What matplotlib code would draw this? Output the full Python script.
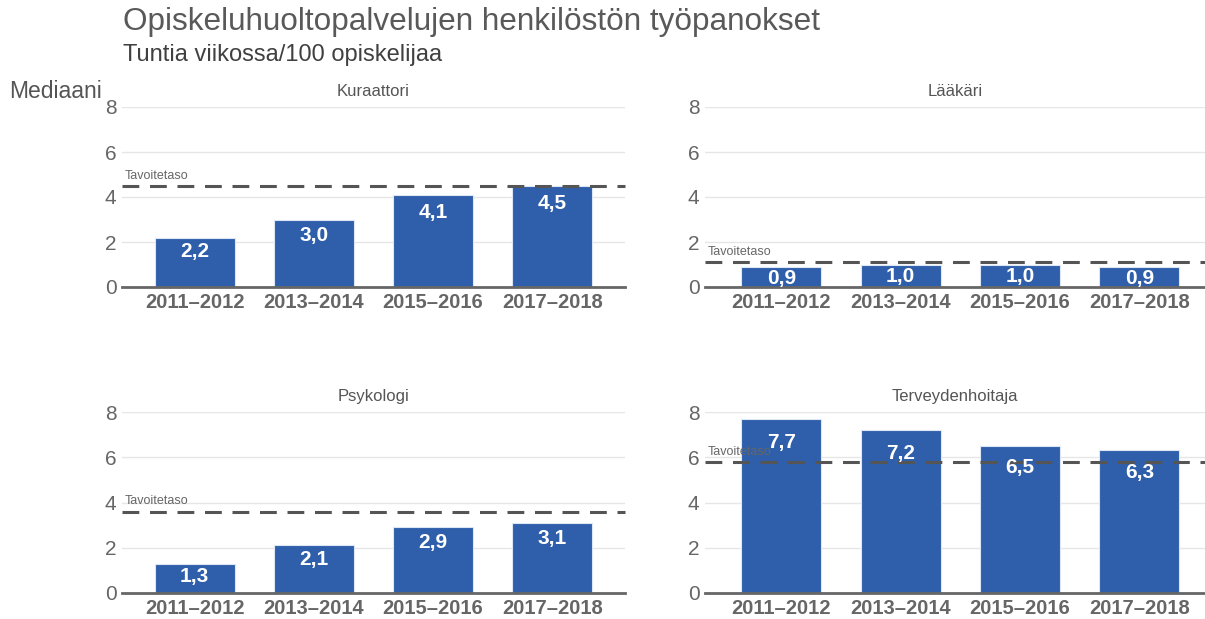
import matplotlib
matplotlib.use("Agg")
import matplotlib.pyplot as plt

plt.rcParams['font.family'] = ['Liberation Sans', 'DejaVu Sans']

periods = ['2011–2012', '2013–2014', '2015–2016', '2017–2018']
kuraattori = [2.2, 3.0, 4.1, 4.5]
laakari = [0.9, 1.0, 1.0, 0.9]
psykologi = [1.3, 2.1, 2.9, 3.1]
terveydenhoitaja = [7.7, 7.2, 6.5, 6.3]
targets = [4.5, 1.1, 3.6, 5.8]
titles = ['Kuraattori', 'Lääkäri', 'Psykologi', 'Terveydenhoitaja']

W, H = 1205, 619
BLUE = '#2f5faa'
GREY = '#666666'

fig = plt.figure(figsize=(W / 100, H / 100), dpi=100)


def px_axes(x0, x1, y_top, y_bot):
    return fig.add_axes([x0 / W, 1 - y_bot / H, (x1 - x0) / W, (y_bot - y_top) / H])


panels = [
    (px_axes(122, 625, 107, 287), kuraattori, (-0.61, 3.61)),
    (px_axes(705, 1205, 107, 287), laakari, (-0.64, 3.55)),
    (px_axes(122, 625, 412, 593), psykologi, (-0.61, 3.61)),
    (px_axes(705, 1205, 412, 593), terveydenhoitaja, (-0.64, 3.55)),
]

for (ax, vals, xl), title, target in zip(panels, titles, targets):
    x = list(range(len(periods)))
    ax.bar(x, vals, width=0.67, color=BLUE, edgecolor='#dce6f4', linewidth=0.8, zorder=2)
    ax.set_xlim(*xl)
    ax.set_ylim(0, 8)
    ax.set_yticks([0, 2, 4, 6, 8])
    ax.set_xticks(x)
    ax.set_xticklabels(periods, fontsize=14.5, fontweight='bold', color=GREY)
    ax.tick_params(axis='y', labelsize=15, colors=GREY, length=0, pad=4)
    ax.tick_params(axis='x', length=0, pad=4)
    for s in ax.spines.values():
        s.set_visible(False)
    ax.grid(axis='y', color='#e6e6e6', linewidth=1, zorder=0)
    ax.set_axisbelow(True)
    ax.axhline(0, color=GREY, linewidth=2, zorder=3, clip_on=False)
    ax.axhline(target, color='#555555', linewidth=2.2, dashes=(5.5, 3.5), zorder=4, clip_on=False)
    ax.annotate('Tavoitetaso', (0, target), xycoords=('axes fraction', 'data'),
                xytext=(2, 3), textcoords='offset points', fontsize=9, color=GREY,
                ha='left', va='bottom', zorder=4)
    ax.set_title(title, fontsize=12, color='#555555', pad=8)
    for xi, v in zip(x, vals):
        # label sits a bit inside the bar top, deeper for taller bars
        ax.text(xi, v - (0.45 + 0.08 * v), f'{v:.1f}'.replace('.', ','),
                ha='center', va='center', fontsize=15, fontweight='bold',
                color='white', zorder=5)

fig.text(123 / W, 1 - 22 / H, 'Opiskeluhuoltopalvelujen henkilöstön työpanokset',
         fontsize=22.7, color='#595959', ha='left', va='center')
fig.text(123 / W, 1 - 55 / H, 'Tuntia viikossa/100 opiskelijaa',
         fontsize=17, color='#404040', ha='left', va='center')
fig.text(9 / W, 1 - 92 / H, 'Mediaani', fontsize=16.5, color='#555555', ha='left', va='center')

fig.savefig('out.png', dpi=100)
